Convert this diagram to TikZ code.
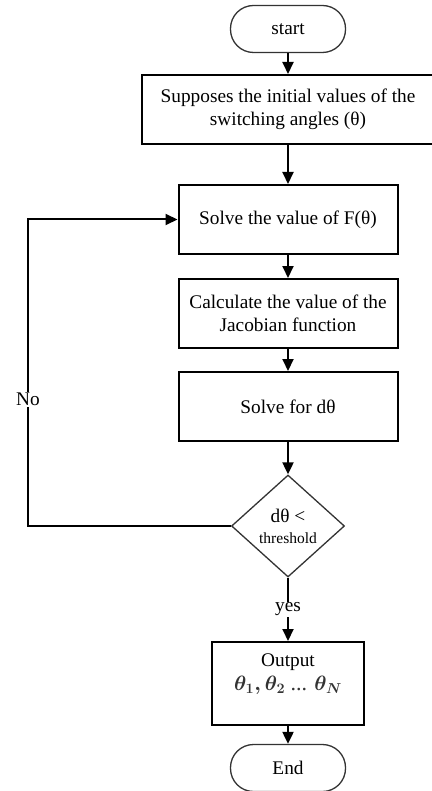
\documentclass[tikz,border=0pt]{standalone}
\usepackage{fontspec}
\setmainfont{Liberation Serif}
\usetikzlibrary{shapes.geometric,arrows.meta}

\begin{document}
\begin{tikzpicture}[x=1pt, y=-1pt,
  font=\fontsize{19.3}{23}\selectfont,
  box/.style = {shape=rectangle, draw, line width=2pt, align=center,
    inner sep=0pt, minimum height=69pt},
  term/.style = {shape=rectangle, rounded corners=23pt, draw=black!80,
    line width=1.3pt, minimum width=115pt, minimum height=47pt},
  decide/.style = {shape=diamond, draw=black!80, line width=1.3pt,
    align=center, inner sep=0pt, aspect=1.1,
    minimum width=113pt, minimum height=102pt},
  flow/.style = {draw, line width=2pt, -{Triangle[length=12pt,width=11pt]}},
  lbl/.style = {fill=white, inner sep=1pt}
]
  \useasboundingbox (0,0) rectangle (431,791);

  \node[term] (start) at (288,29) {start};
  \node[box, minimum width=292pt] (init) at (288,109.5)
    {Supposes the initial values of the\\switching angles (θ)};
  \node[box, minimum width=219pt] (func) at (288,219.5) {Solve the value of F(θ)};
  \node[box, minimum width=219pt] (jacob) at (288,313.5)
    {Calculate the value of the\\Jacobian function};
  \node[box, minimum width=219pt] (delta) at (288,406.5) {Solve for dθ};
  \node[decide] (check) at (288,526)
    {dθ <\\[-2pt]{\fontsize{15.5}{18}\selectfont threshold}};
  \node[box, minimum width=152pt, minimum height=83pt] (out) at (288,683.5)
    {Output\\[1pt]{\color{black!80}\fontsize{22}{23}\selectfont\boldmath
      $\theta_1, \theta_2$ ... $\theta_N$}\\~};
  \node[term] (end) at (288,768) {End};

  \coordinate (loop) at (28,526);

  \draw[flow] (start) -- (init);
  \draw[flow] (init) -- (func);
  \draw[flow] (func) -- (jacob);
  \draw[flow] (jacob) -- (delta);
  \draw[flow] (delta) -- (check);
  \draw[flow] (check) -- node[lbl] {yes} (out);
  \draw[flow] (out) -- (end);
  \draw[flow] (check.west) -- (loop) |- node[lbl, pos=0.206] {No} (func.west);

\end{tikzpicture}
\end{document}
